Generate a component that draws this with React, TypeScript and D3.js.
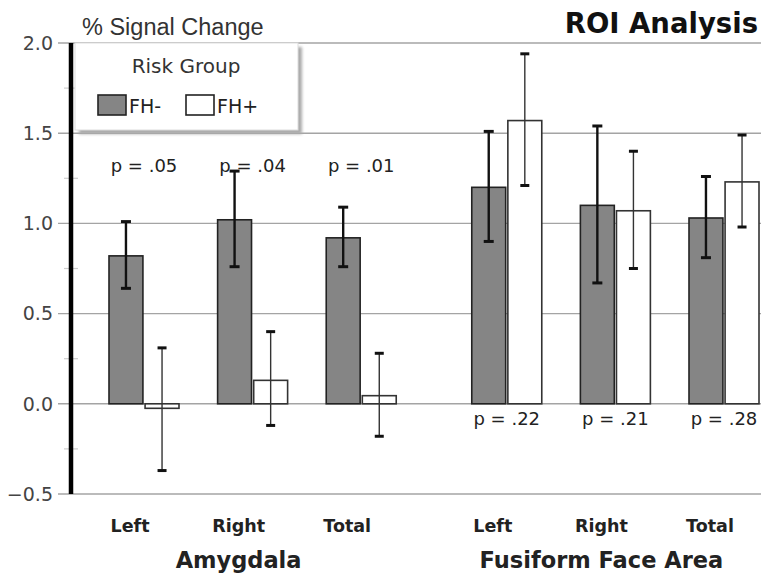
import React from 'react';
import * as d3 from 'd3';

// values (% signal change, mean and error-bar ends)
const regions = ['Amygdala', 'Fusiform Face Area'];
const sides = ['Left', 'Right', 'Total'];
const riskGroups = ['FH-', 'FH+'];

const fhMinus = [0.82, 1.02, 0.92, 1.2, 1.1, 1.03];
const fhMinusLow = [0.64, 0.76, 0.76, 0.9, 0.67, 0.81];
const fhMinusHigh = [1.01, 1.29, 1.09, 1.51, 1.54, 1.26];

const fhPlus = [-0.025, 0.13, 0.045, 1.57, 1.07, 1.23];
const fhPlusLow = [-0.37, -0.12, -0.18, 1.21, 0.75, 0.98];
const fhPlusHigh = [0.31, 0.4, 0.28, 1.94, 1.4, 1.49];

const pValues = ['p = .05', 'p = .04', 'p = .01', 'p = .22', 'p = .21', 'p = .28'];

const yTicks = [-0.5, 0, 0.5, 1.0, 1.5, 2.0];
const yMinorTicks = [-0.25, 0.25, 0.75, 1.25, 1.75];

const W = 761;
const H = 581;
const regionGap = 0.34; // extra slot space between the two regions

const App = () => {
    const y = d3.scaleLinear().domain([-0.5, 2.0]).range([494, 43]);
    const slot = d3.scaleLinear().domain([0, sides.length - 1 + sides.length + regionGap]).range([144, 724]);
    const inner = d3.scaleBand().domain(riskGroups).range([-35, 35]).paddingInner(0.06);

    // one entry per bar group
    const cells = regions.flatMap((region, r) =>
        sides.map((side, s) => {
            const i = r * sides.length + s;
            return {
                region, side, r, i,
                cx: slot(r * (sides.length + regionGap) + s),
                bars: [
                    { key: 'FH-', v: fhMinus[i], lo: fhMinusLow[i], hi: fhMinusHigh[i] },
                    { key: 'FH+', v: fhPlus[i], lo: fhPlusLow[i], hi: fhPlusHigh[i] },
                ],
            };
        })
    );

    const sans = 'DejaVu Sans, Verdana, sans-serif';
    const axisX = 71;

    return (
        <svg width={W} height={H} style={{ position: 'absolute', left: 0, top: 0, background: '#fff' }}>
            <defs>
                <filter id="shadow" x="-10%" y="-10%" width="130%" height="140%">
                    <feGaussianBlur stdDeviation="1.5" />
                </filter>
            </defs>

            {/* gridlines + tick labels */}
            {yTicks.map(t => (
                <g key={t}>
                    <line x1={58} x2={W} y1={y(t)} y2={y(t)} stroke="#a4a4a4" strokeWidth={1.4} />
                    <text x={53} y={y(t)} dy="0.36em" textAnchor="end" fontFamily={sans} fontSize={19} fill="#444">
                        {d3.format('.1f')(t)}
                    </text>
                </g>
            ))}
            {yMinorTicks.map(t => (
                <line key={t} x1={64} x2={78} y1={y(t)} y2={y(t)} stroke="#ccc" strokeWidth={1.2} />
            ))}

            {/* bars and error bars */}
            {cells.map(c => (
                <g key={c.i}>
                    {c.bars.map(b => {
                        const x0 = c.cx + inner(b.key);
                        const bx = x0 + inner.bandwidth() / 2;
                        const minus = b.key === 'FH-';
                        const capW = minus ? 10 : 9;
                        return (
                            <g key={b.key}>
                                <rect
                                    x={x0}
                                    y={Math.min(y(b.v), y(0))}
                                    width={inner.bandwidth()}
                                    height={Math.abs(y(b.v) - y(0))}
                                    fill={minus ? '#858585' : '#fff'}
                                    stroke={minus ? '#222' : '#333'}
                                    strokeWidth={1.6}
                                />
                                <line x1={bx} x2={bx} y1={y(b.lo)} y2={y(b.hi)}
                                    stroke={minus ? '#111' : '#333'} strokeWidth={minus ? 2.4 : 1.4} />
                                <line x1={bx - capW / 2} x2={bx + capW / 2} y1={y(b.hi)} y2={y(b.hi)}
                                    stroke="#111" strokeWidth={3} />
                                <line x1={bx - capW / 2} x2={bx + capW / 2} y1={y(b.lo)} y2={y(b.lo)}
                                    stroke="#111" strokeWidth={3} />
                            </g>
                        );
                    })}
                    <text
                        x={c.cx}
                        y={c.r === 0 ? 172 : 425}
                        textAnchor="middle"
                        fontFamily={sans}
                        fontSize={18}
                        fill="#222"
                    >
                        {pValues[c.i]}
                    </text>
                    <text x={c.cx - 14} y={532} textAnchor="middle" fontFamily={sans} fontWeight="bold" fontSize={17.5} fill="#222">
                        {c.side}
                    </text>
                </g>
            ))}

            {/* region labels */}
            {regions.map((region, r) => (
                <text
                    key={region}
                    x={slot(r * (sides.length + regionGap) + 1) - 14}
                    y={568}
                    textAnchor="middle"
                    fontFamily={sans}
                    fontWeight="bold"
                    fontSize={22.5}
                    fill="#222"
                >
                    {region}
                </text>
            ))}

            {/* y axis */}
            <line x1={axisX} x2={axisX} y1={y(2.0)} y2={y(-0.5)} stroke="#000" strokeWidth={4.5} />

            {/* legend */}
            <rect x={79} y={47} width={223} height={87} fill="#aaa" filter="url(#shadow)" />
            <rect x={75} y={43} width={223} height={87} fill="#fff" stroke="#ddd" strokeWidth={1} />
            <text x={186} y={73} textAnchor="middle" fontFamily={sans} fontSize={20} fill="#333">Risk Group</text>
            {riskGroups.map((g, k) => (
                <g key={g} transform={`translate(${98 + k * 88},95)`}>
                    <rect width={28} height={20} fill={k === 0 ? '#858585' : '#fff'} stroke="#222" strokeWidth={1.6} />
                    <text x={31} y={18} fontFamily={sans} fontSize={19} fill="#222">{g}</text>
                </g>
            ))}

            {/* titles */}
            <text x={82} y={35} fontFamily="Liberation Sans, Arial, sans-serif" fontSize={23.5} fill="#333">% Signal Change</text>
            <text x={758} y={33} textAnchor="end" fontFamily={sans} fontWeight="bold" fontSize={27.5} fill="#111">ROI Analysis</text>
        </svg>
    );
};

export default App;
